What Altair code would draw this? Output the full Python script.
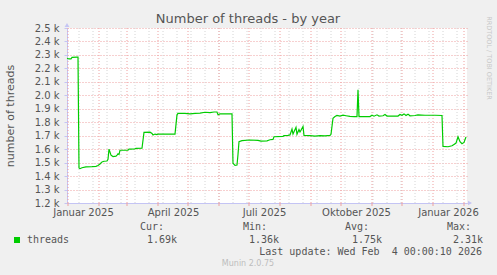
import altair as alt
import pandas as pd

# ---- data ----
dates = [
    "2024-12-31", "2025-01-02", "2025-01-04", "2025-01-05", "2025-01-10", "2025-01-11",
    "2025-01-12", "2025-01-13", "2025-01-15", "2025-01-19", "2025-01-25", "2025-01-29",
    "2025-01-31", "2025-02-02", "2025-02-04", "2025-02-06", "2025-02-09", "2025-02-10",
    "2025-02-11", "2025-02-13", "2025-02-15", "2025-02-18", "2025-02-19", "2025-02-20",
    "2025-02-21", "2025-02-22", "2025-03-02", "2025-03-03", "2025-03-09", "2025-03-10",
    "2025-03-16", "2025-03-18", "2025-03-24", "2025-03-26", "2025-03-27", "2025-03-29",
    "2025-03-31", "2025-04-01", "2025-04-18", "2025-04-20", "2025-04-21", "2025-04-28",
    "2025-05-03", "2025-05-08", "2025-05-13", "2025-05-18", "2025-05-23", "2025-05-27",
    "2025-05-30", "2025-05-31", "2025-06-02", "2025-06-13", "2025-06-14", "2025-06-15",
    "2025-06-17", "2025-06-19", "2025-06-20", "2025-06-21", "2025-06-24", "2025-07-02",
    "2025-07-10", "2025-07-13", "2025-07-19", "2025-07-22", "2025-07-25", "2025-07-26",
    "2025-08-04", "2025-08-05", "2025-08-09", "2025-08-11", "2025-08-13", "2025-08-14",
    "2025-08-17", "2025-08-18", "2025-08-20", "2025-08-21", "2025-08-22", "2025-08-24",
    "2025-08-25", "2025-08-31", "2025-09-05", "2025-09-10", "2025-09-15", "2025-09-20",
    "2025-09-21", "2025-09-23", "2025-09-25", "2025-09-27", "2025-09-30", "2025-10-03",
    "2025-10-06", "2025-10-10", "2025-10-14", "2025-10-17", "2025-10-18", "2025-10-19",
    "2025-10-30", "2025-11-01", "2025-11-03", "2025-11-06", "2025-11-08", "2025-11-12",
    "2025-11-14", "2025-11-16", "2025-11-27", "2025-11-29", "2025-12-01", "2025-12-03",
    "2025-12-05", "2025-12-07", "2025-12-09", "2025-12-14", "2025-12-17", "2025-12-24",
    "2026-01-03", "2026-01-10", "2026-01-11", "2026-01-16", "2026-01-20", "2026-01-22",
    "2026-01-24", "2026-01-26", "2026-01-28", "2026-01-30", "2026-02-01", "2026-02-03",
]
threads = [
    2275, 2270, 2270, 2282, 2283, 2283,
    1460, 1455, 1462, 1468, 1470, 1472,
    1478, 1490, 1505, 1510, 1512, 1525,
    1600, 1555, 1545, 1548, 1556, 1565,
    1560, 1592, 1592, 1600, 1602, 1606,
    1607, 1725, 1726, 1716, 1705, 1712,
    1708, 1712, 1712, 1855, 1866, 1866,
    1862, 1866, 1868, 1874, 1872, 1876,
    1876, 1856, 1862, 1862, 1862, 1495,
    1480, 1482, 1560, 1655, 1663, 1668,
    1665, 1660, 1662, 1670, 1672, 1692,
    1695, 1700, 1702, 1706, 1750, 1712,
    1762, 1710, 1745, 1728, 1740, 1768,
    1702, 1700, 1697, 1700, 1698, 1702,
    1710, 1830, 1842, 1850, 1846, 1852,
    1848, 1843, 1842, 1842, 2042, 1842,
    1842, 1852, 1845, 1855, 1846, 1848,
    1858, 1846, 1846, 1858, 1852, 1862,
    1850, 1860, 1848, 1850, 1855, 1852,
    1852, 1850, 1620, 1618, 1625, 1635,
    1645, 1692, 1655, 1640, 1650, 1690,
]

y_ticks = [1200, 1300, 1400, 1500, 1600, 1700, 1800, 1900, 2000, 2100, 2200, 2300, 2400, 2500]
label_dates = ["2025-01-16", "2025-04-16", "2025-07-16", "2025-10-16", "2026-01-16"]
month_starts = ["2025-01-01", "2025-02-01", "2025-03-01", "2025-04-01", "2025-05-01",
                "2025-06-01", "2025-07-01", "2025-08-01", "2025-09-01", "2025-10-01",
                "2025-11-01", "2025-12-01", "2026-01-01", "2026-02-01"]
minor_dates = [d.strftime("%Y-%m-%d") for d in pd.date_range("2025-01-12", "2026-02-03", freq="14D")]
x_domain = ["2024-12-31", "2026-02-04"]

legend_name = "threads"
stat_heads = ["Cur:", "Min:", "Avg:", "Max:"]
stat_vals = ["1.69k", "1.36k", "1.75k", "2.31k"]

# ---- helpers ----
def ms(d):
    return int(pd.Timestamp(d, tz="UTC").value // 10**6)

W, H = 400, 175
LAV = "#C4C4F4"
RED = "#EEA0A0"
GRAY = "#D4D4D4"
TXT = "#555555"

months_de = "['Januar','Februar','März','April','Mai','Juni','Juli','August','September','Oktober','November','Dezember']"
xscale = alt.Scale(type="utc", domain=[ms(d) for d in x_domain])
xaxis = alt.Axis(
    values=[ms(d) for d in label_dates],
    labelExpr=months_de + "[utcmonth(datum.value)] + ' ' + utcyear(datum.value)",
    grid=False, ticks=False, domainColor=LAV, domainWidth=1,
    labelFont="DejaVu Sans", labelFontSize=10, labelColor=TXT, labelPadding=4,
    labelFlush=False, labelOverlap=False, title=None,
)

def xenc():
    return alt.X("date:T", scale=xscale, axis=xaxis)

df = pd.DataFrame({"date": dates, "threads": threads})

minor = alt.Chart(pd.DataFrame({"date": minor_dates})).mark_rule(
    color=GRAY, strokeDash=[1, 2], strokeWidth=1
).encode(x=xenc(), y=alt.value(0), y2=alt.value(H))

major = alt.Chart(pd.DataFrame({"date": month_starts})).mark_rule(
    color=RED, strokeDash=[1, 2], strokeWidth=1
).encode(x=xenc(), y=alt.value(0), y2=alt.value(H))

major_ticks = alt.Chart(pd.DataFrame({"date": month_starts})).mark_rule(
    color=RED, strokeWidth=1
).encode(x=xenc(), y=alt.value(H), y2=alt.value(H + 3))

line = alt.Chart(df).mark_line(color="#00CC00", strokeWidth=1.2).encode(
    x=xenc(),
    y=alt.Y(
        "threads:Q",
        scale=alt.Scale(domain=[1200, 2500], nice=False, zero=False),
        axis=alt.Axis(
            values=y_ticks,
            labelExpr="format(datum.value/1000, '.1f') + ' k'",
            grid=True, gridColor=RED, gridDash=[1, 2], gridWidth=1,
            domainColor=LAV, tickColor=LAV, tickSize=3, labelPadding=5,
            labelFont="DejaVu Sans", labelFontSize=10, labelColor=TXT,
            title="number of threads", titleFont="DejaVu Sans", titleFontSize=11,
            titleFontWeight="normal", titleColor=TXT, titleX=-57, titleY=H / 2,
            titleAngle=270, titleAlign="center", titleBaseline="middle",
        ),
    ),
)

def txt(text, x, y, size=10, font="DejaVu Sans Mono", color=TXT, align="left", angle=0):
    return alt.Chart(pd.DataFrame({"t": [text]})).mark_text(
        font=font, fontSize=size, color=color, align=align, baseline="middle", angle=angle
    ).encode(text="t:N", x=alt.value(x), y=alt.value(y))

arrows = [
    alt.Chart(pd.DataFrame({"a": [0]})).mark_point(shape="triangle-up", filled=True, color=LAV, size=22, opacity=1)
    .encode(x=alt.value(0), y=alt.value(-3)),
    alt.Chart(pd.DataFrame({"a": [0]})).mark_point(shape="triangle-right", filled=True, color=LAV, size=22, opacity=1)
    .encode(x=alt.value(W + 3), y=alt.value(H)),
]

texts = [
    txt("Number of threads - by year", W / 2 - 19, -9, size=13, font="DejaVu Sans", align="center"),
    txt("RRDTOOL / TOBI OETIKER", 422, 30, size=6.5, font="DejaVu Sans", color="#C8C8C8", align="center", angle=90),
    txt(legend_name, -40, 212),
    txt("Last update: Wed Feb\u00a0 4 00:00:10 2026", 415, 224, align="right"),
    txt("Munin 2.0.75", 181, 236, size=8, font="DejaVu Sans", color="#BDBDBD", align="center"),
]
heads_x = [73, 176, 278, 380]
vals_x = [80, 182, 285, 386]
for h, v, hx, vx in zip(stat_heads, stat_vals, heads_x, vals_x):
    texts.append(txt(h, hx, 199))
    texts.append(txt(v, vx, 212))

swatch = alt.Chart(pd.DataFrame({"a": [0]})).mark_square(color="#00CC00", size=36, opacity=1).encode(
    x=alt.value(-50), y=alt.value(212)
)

chart = alt.layer(minor, major, major_ticks, line, *arrows, swatch, *texts).properties(
    width=W, height=H,
    autosize=alt.AutoSizeParams(type="none"),
    padding={"left": 67, "top": 28, "right": 30, "bottom": 72},
    background="#F0F0F0",
).configure_view(fill="white", strokeWidth=0)

chart.save("out.html", embed_options={"renderer": "svg", "actions": False})
